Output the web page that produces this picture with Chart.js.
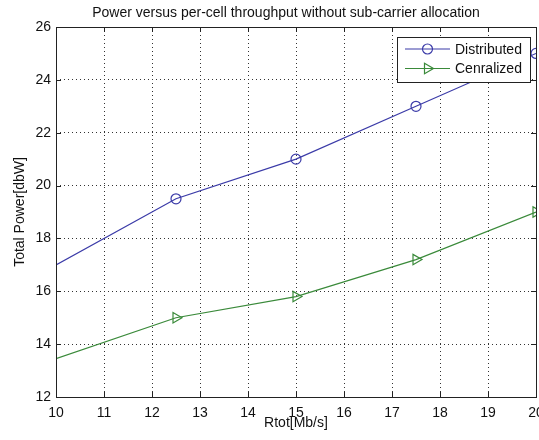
<!DOCTYPE html>
<html>
<head>
<meta charset="utf-8">
<script src="https://cdn.jsdelivr.net/npm/chart.js@4.4.0/dist/chart.umd.min.js"></script>
<style>
    html, body { margin: 0; padding: 0; background: #fff; overflow: hidden; }
    #wrap { position: relative; width: 572px; height: 440px; }
</style>
</head>
<body>
<div id="wrap"><canvas id="powerChart"></canvas></div>
<script>
// values
const rates = [10, 12.5, 15, 17.5, 20];
const distributed = [17, 19.5, 21, 23, 25];
const centralized = [13.45, 15, 15.8, 17.2, 19];
const showMarker = [false, true, true, true, true];
const seriesNames = ['Distributed', 'Cenralized'];
const xTicks = [10, 11, 12, 13, 14, 15, 16, 17, 18, 19, 20];
const yTicks = [12, 14, 16, 18, 20, 22, 24, 26];

const FONT = "'Liberation Sans', Arial, sans-serif";
const BLUE = '#3b3ba8';
const GREEN = '#3a8a3a';

function toPoints(ys) {
    return rates.map((x, i) => ({ x: x, y: ys[i] }));
}

// box round the plot with MATLAB style inward ticks
const frameTicks = {
    id: 'frameTicks',
    afterDatasetsDraw(chart) {
        const { ctx, chartArea: a, scales } = chart;
        const len = 5;
        ctx.save();
        ctx.strokeStyle = '#222';
        ctx.lineWidth = 1;
        ctx.beginPath();
        xTicks.forEach(v => {
            const px = Math.round(scales.x.getPixelForValue(v)) + 0.5;
            ctx.moveTo(px, a.bottom); ctx.lineTo(px, a.bottom - len);
            ctx.moveTo(px, a.top); ctx.lineTo(px, a.top + len);
        });
        yTicks.forEach(v => {
            const py = Math.round(scales.y.getPixelForValue(v)) + 0.5;
            ctx.moveTo(a.left, py); ctx.lineTo(a.left + len, py);
            ctx.moveTo(a.right, py); ctx.lineTo(a.right - len, py);
        });
        ctx.stroke();
        ctx.strokeRect(Math.round(a.left) + 0.5, Math.round(a.top) + 0.5,
            Math.round(a.right - a.left), Math.round(a.bottom - a.top));
        ctx.restore();
    }
};

// legend box in the upper right corner of the plot
const boxLegend = {
    id: 'boxLegend',
    afterDraw(chart) {
        const { ctx, chartArea: a } = chart;
        const w = 133, h = 45;
        const left = a.right - 6 - w;
        const top = a.top + 10;
        ctx.save();
        ctx.fillStyle = '#fff';
        ctx.fillRect(left, top, w, h);
        ctx.strokeStyle = '#222';
        ctx.lineWidth = 1;
        ctx.strokeRect(Math.round(left) + 0.5, Math.round(top) + 0.5, w, h);

        chart.data.datasets.forEach((ds, i) => {
            const y = top + 12 + i * 19.5;
            const x0 = left + 8, x1 = left + 53, xm = (x0 + x1) / 2;
            ctx.strokeStyle = ds.borderColor;
            ctx.fillStyle = 'rgba(0,0,0,0)';
            ctx.lineWidth = 1.2;
            ctx.beginPath();
            ctx.moveTo(x0, y); ctx.lineTo(x1, y);
            ctx.stroke();
            Chart.helpers.drawPoint(ctx, {
                pointStyle: ds.pointStyle,
                rotation: ds.pointRotation || 0,
                radius: ds.legendRadius,
                borderWidth: 1.2
            }, xm, y);
            ctx.fillStyle = '#111';
            ctx.font = '14px ' + FONT;
            ctx.textBaseline = 'middle';
            ctx.textAlign = 'left';
            ctx.fillText(ds.label, left + 58, y + 1);
        });
        ctx.restore();
    }
};

const ctx = document.getElementById('powerChart');

new Chart(ctx, {
    type: 'line',
    data: {
        datasets: [{
            label: seriesNames[0],
            data: toPoints(distributed),
            borderColor: BLUE,
            borderWidth: 1.2,
            pointStyle: 'circle',
            legendRadius: 5,
            pointRadius: c => showMarker[c.dataIndex] ? 5 : 0,
            pointBorderColor: BLUE,
            pointBackgroundColor: 'rgba(0,0,0,0)',
            pointBorderWidth: 1.2,
            tension: 0,
            fill: false
        }, {
            label: seriesNames[1],
            data: toPoints(centralized),
            borderColor: GREEN,
            borderWidth: 1.2,
            pointStyle: 'triangle',
            pointRotation: 90,
            legendRadius: 6,
            pointRadius: c => showMarker[c.dataIndex] ? 6 : 0,
            pointBorderColor: GREEN,
            pointBackgroundColor: 'rgba(0,0,0,0)',
            pointBorderWidth: 1.2,
            tension: 0,
            fill: false
        }]
    },
    options: {
        responsive: true,
        maintainAspectRatio: false,
        animation: false,
        events: [],
        layout: { padding: 0 },
        plugins: {
            legend: { display: false },
            tooltip: { enabled: false },
            title: {
                display: true,
                text: 'Power versus per-cell throughput without sub-carrier allocation',
                color: '#111',
                font: { family: FONT, size: 14, weight: 'normal' },
                padding: { top: 4.6, bottom: 5.6 }
            }
        },
        scales: {
            x: {
                type: 'linear',
                min: xTicks[0],
                max: xTicks[xTicks.length - 1],
                afterBuildTicks: s => { s.ticks = xTicks.map(v => ({ value: v })); },
                afterFit: s => { s.height = 43; s.paddingRight = 36; },
                grid: { color: '#333', lineWidth: 1, drawTicks: false },
                border: { display: false, dash: [1, 3] },
                ticks: {
                    color: '#111',
                    padding: 8,
                    font: { family: FONT, size: 14 }
                },
                title: {
                    display: true,
                    text: 'Rtot[Mb/s]',
                    color: '#111',
                    font: { family: FONT, size: 14 },
                    padding: { top: 0, bottom: 8 }
                }
            },
            y: {
                min: yTicks[0],
                max: yTicks[yTicks.length - 1],
                afterBuildTicks: s => { s.ticks = yTicks.map(v => ({ value: v })); },
                afterFit: s => { s.width = 56; },
                grid: { color: '#333', lineWidth: 1, drawTicks: false },
                border: { display: false, dash: [1, 3] },
                ticks: {
                    color: '#111',
                    padding: 5,
                    font: { family: FONT, size: 14 }
                },
                title: {
                    display: true,
                    text: 'Total Power[dbW]',
                    color: '#111',
                    font: { family: FONT, size: 14 },
                    padding: { top: 11.6, bottom: 0 }
                }
            }
        }
    },
    plugins: [frameTicks, boxLegend]
});
</script>
</body>
</html>
